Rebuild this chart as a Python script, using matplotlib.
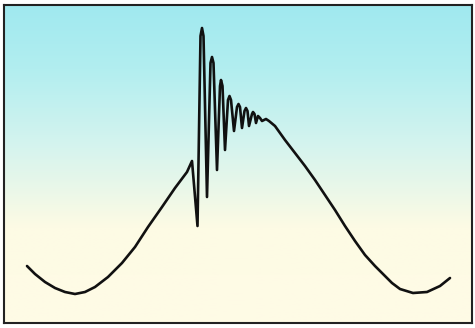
import numpy as np
import matplotlib.pyplot as plt
from matplotlib.colors import LinearSegmentedColormap

# points (time, vertical pixel position from the top)
t = [27, 35, 45, 55, 65, 75, 85, 95, 108, 122, 135, 148, 162, 175, 187, 192,
     197.5, 200.5, 202, 203.5, 207, 210.5, 212, 213.5, 217, 220, 221, 222.5,
     225, 228, 229.5, 231, 234, 237, 238.5, 240, 242, 244.5, 246, 247.5,
     249, 252, 253, 254.5, 256, 258, 260, 262, 266, 269,
     275, 285, 295, 305, 315, 325, 335, 345, 355, 365, 375, 385, 392,
     400, 413, 427, 440, 450]
y_pix = [266, 274, 282, 288, 292, 294, 292, 287, 277, 263, 247, 227, 207, 188, 172, 161,
         226, 36, 28, 36, 197, 63, 57, 63, 170, 86, 80, 86,
         150, 100, 96, 100, 131, 107, 104, 107, 128, 111, 108, 111,
         126, 114, 112, 114, 123, 116, 118, 121, 119, 121,
         126, 140, 153, 166, 180, 195, 210, 226, 241, 255, 266, 276, 283,
         289, 293, 292, 286, 278]
H = 328
amp = [H - v for v in y_pix]

# gradient background colours (bottom -> top)
bg_colors = [(0.0, '#fffbe6'), (0.30, '#fdfbe4'), (0.55, '#d6f4ee'),
             (0.80, '#b2eef0'), (1.0, '#a0e9ef')]

fig = plt.figure(figsize=(4.75, 3.28), dpi=100)
ax = fig.add_axes([4/475, 5/328, 468/475, 318/328])

cmap = LinearSegmentedColormap.from_list('bg', bg_colors)
grad = np.linspace(0, 1, 256).reshape(-1, 1)
ax.imshow(grad, cmap=cmap, aspect='auto', origin='lower',
          extent=[4, 472, H - 323, H - 5], zorder=0)

ax.plot(t, amp, color='#111111', linewidth=1.9, solid_joinstyle='round',
        solid_capstyle='round', zorder=2)

ax.set_xlim(4, 472)
ax.set_ylim(H - 323, H - 5)
ax.set_xticks([])
ax.set_yticks([])
for s in ax.spines.values():
    s.set_color('#222222')
    s.set_linewidth(1.5)

plt.savefig('out.png', dpi=100)
